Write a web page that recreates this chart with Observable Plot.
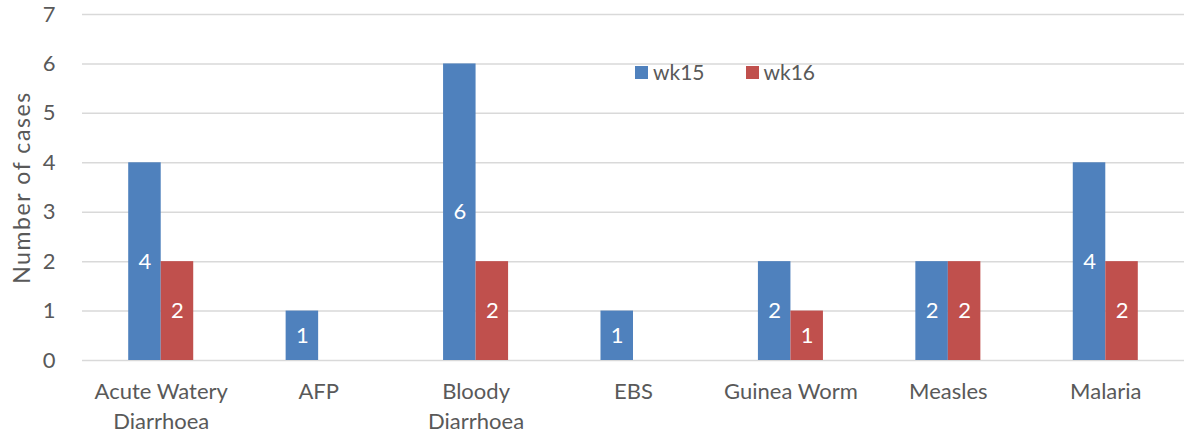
<!DOCTYPE html>
<html>
<head>
<meta charset="utf-8">
<script src="https://cdn.jsdelivr.net/npm/d3@7"></script>
<script src="https://cdn.jsdelivr.net/npm/@observablehq/plot@0.6"></script>
<style>
  body { margin: 0; background: #fff; }
  #wrap { position: relative; width: 1199px; height: 433px; font-family: Lato, "Open Sans", sans-serif; }
  .legend { position: absolute; top: 58px; left: 635px; display: flex; align-items: center; font-size: 21px; color: #595959; line-height: 28px; }
  .legend .sw { width: 13px; height: 13px; display: inline-block; margin-right: 5px; }
  .legend .item { display: flex; align-items: center; margin-right: 41px; }
</style>
</head>
<body>
<div id="wrap"></div>
<script>
const categories = ["Acute Watery Diarrhoea", "AFP", "Bloody Diarrhoea", "EBS", "Guinea Worm", "Measles", "Malaria"];
const tickLabels = ["Acute Watery\nDiarrhoea", "AFP", "Bloody\nDiarrhoea", "EBS", "Guinea Worm", "Measles", "Malaria"];
const wk15 = [4, 1, 6, 1, 2, 2, 4];
const wk16 = [2, null, 2, null, 1, 2, 2];
const seriesNames = ["wk15", "wk16"];
const seriesColors = ["#4f81bd", "#c0504d"];
const yTicks = [0, 1, 2, 3, 4, 5, 6, 7];
const yLabel = "Number of cases";

const width = 1199, height = 433;
const marginLeft = 82, marginRight = 15, marginTop = 14, marginBottom = 73;
const paddingInner = 0.587, paddingOuter = paddingInner / 2;
const step = (width - marginLeft - marginRight) / categories.length;
const bandwidth = step * (1 - paddingInner);
const half = bandwidth / 2;

const d15 = categories.map((c, i) => ({category: c, value: wk15[i]})).filter(d => d.value != null);
const d16 = categories.map((c, i) => ({category: c, value: wk16[i]})).filter(d => d.value != null);

const chart = Plot.plot({
  width, height, marginLeft, marginRight, marginTop, marginBottom,
  style: {fontFamily: "Lato, 'Open Sans', sans-serif", fontSize: "22px", color: "#595959", background: "#fff", overflow: "visible"},
  x: {type: "band", domain: categories, paddingInner, paddingOuter, round: false},
  y: {domain: [0, 7]},
  marks: [
    Plot.gridY(yTicks, {stroke: "#d9d9d9", strokeOpacity: 1, strokeWidth: 1.5}),
    Plot.barY(d15, {x: "category", y: "value", fill: seriesColors[0], insetRight: half}),
    Plot.barY(d16, {x: "category", y: "value", fill: seriesColors[1], insetLeft: half}),
    Plot.text(d15, {x: "category", y: d => d.value / 2, text: d => String(d.value), fill: "white", dx: -half / 2, fontSize: 22}),
    Plot.text(d16, {x: "category", y: d => d.value / 2, text: d => String(d.value), fill: "white", dx: half / 2, fontSize: 22}),
    Plot.axisY(yTicks, {tickSize: 0, tickPadding: 27, label: null, fill: "#595959", fontSize: 22}),
    Plot.axisX({tickSize: 0, tickPadding: 18, label: null, fill: "#595959", fontSize: 22, lineHeight: 1.33,
      tickFormat: c => tickLabels[categories.indexOf(c)]}),
    Plot.text([yLabel], {frameAnchor: "left", textAnchor: "middle", rotate: -90, dx: -60, fill: "#595959", fontSize: 23})
  ]
});

chart.querySelectorAll("text").forEach(t => {
  if (t.textContent === yLabel) t.style.letterSpacing = "1.6px";
});

const wrap = document.getElementById("wrap");
wrap.appendChild(chart);
const legend = document.createElement("div");
legend.className = "legend";
seriesNames.forEach((n, i) => {
  const item = document.createElement("span");
  item.className = "item";
  item.innerHTML = `<span class="sw" style="background:${seriesColors[i]}"></span>${n}`;
  legend.appendChild(item);
});
wrap.appendChild(legend);
</script>
</body>
</html>
